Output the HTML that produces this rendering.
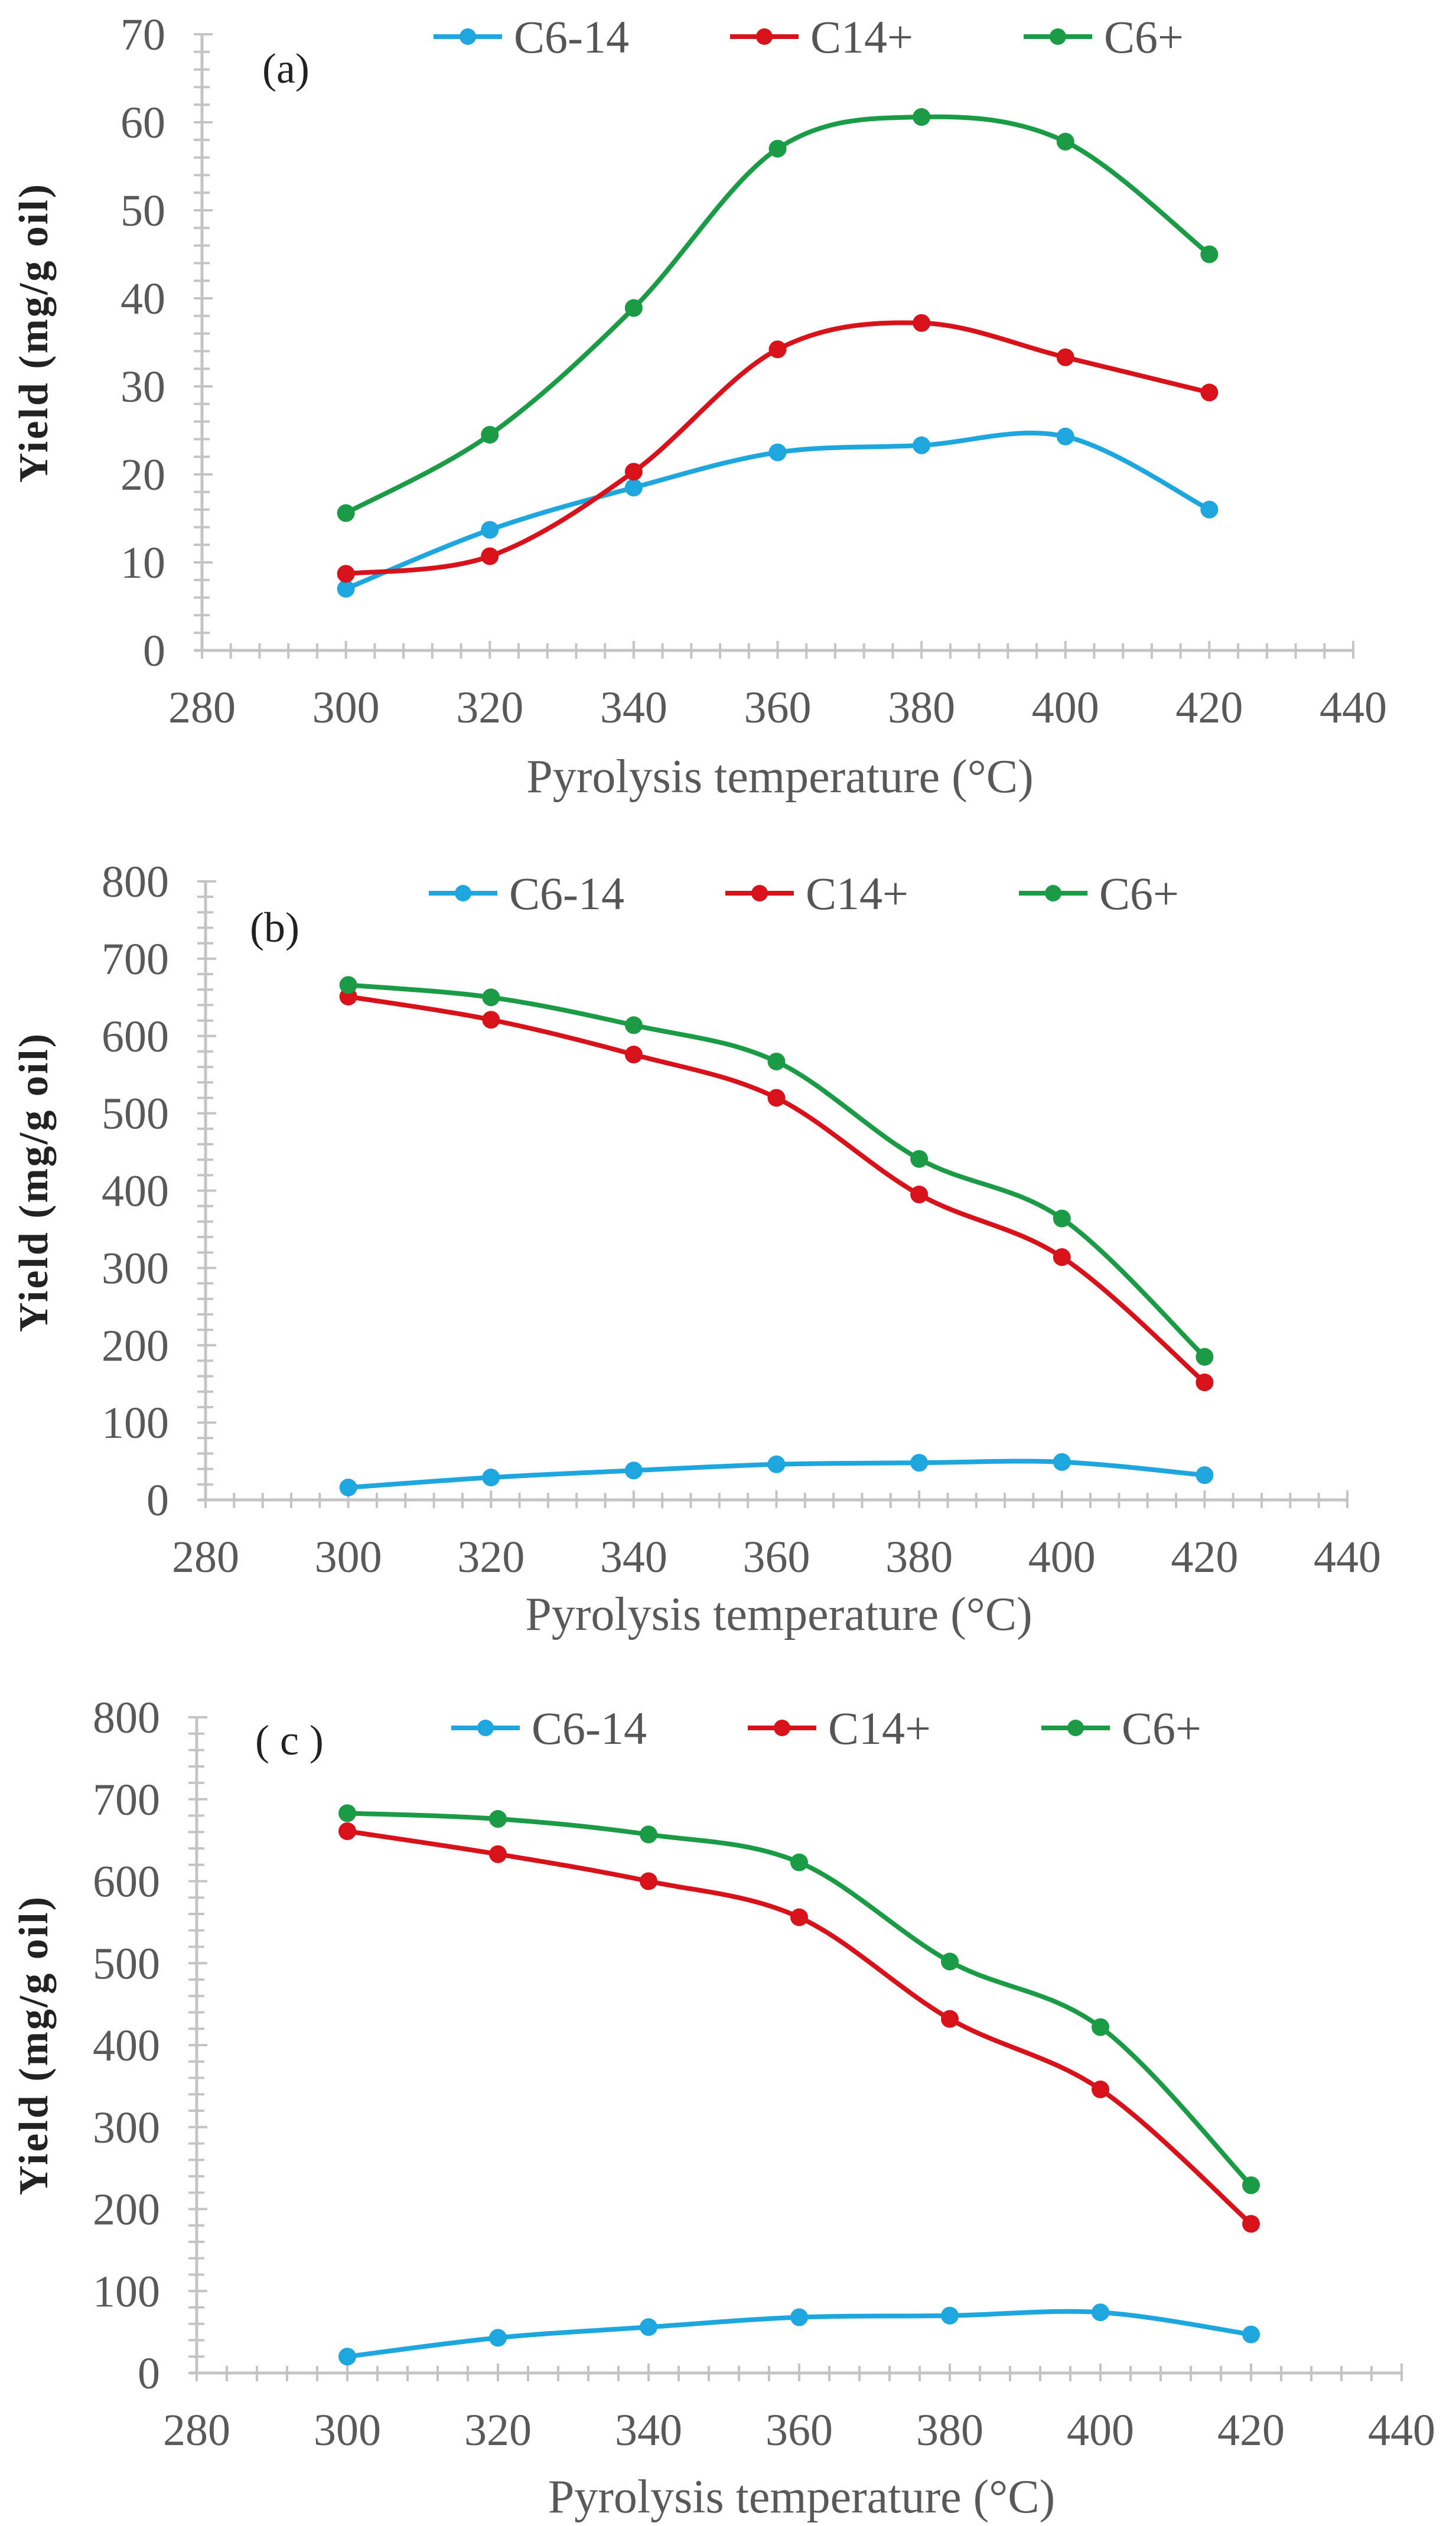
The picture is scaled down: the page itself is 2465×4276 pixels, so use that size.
<!DOCTYPE html>
<html><head><meta charset="utf-8"><style>
html,body{margin:0;padding:0;background:#fff;}
svg{display:block;}
text{font-family:"Liberation Serif",serif;}
</style></head>
<body>
<svg id="fig" width="2465" height="4276" viewBox="0 0 2465 4276" xmlns="http://www.w3.org/2000/svg"></svg>
<script>
const temps = [300, 320, 340, 360, 380, 400, 420];
const seriesNames = ["C6-14", "C14+", "C6+"];
const xTickLabels = ["280", "300", "320", "340", "360", "380", "400", "420", "440"];
const aC614 = [7, 13.7, 18.5, 22.5, 23.3, 24.3, 16];
const aC14 = [8.7, 10.7, 20.3, 34.2, 37.2, 33.3, 29.3];
const aC6 = [15.6, 24.5, 38.9, 57, 60.6, 57.8, 45];
const bC614 = [16, 29, 38, 46, 48, 49, 32];
const bC14 = [651, 621, 576, 520, 395, 314, 152];
const bC6 = [666, 650, 614, 567, 441, 364, 185];
const cC614 = [20, 43, 56, 68, 70, 74, 47];
const cC14 = [661, 633, 600, 556, 432, 346, 182];
const cC6 = [683, 676, 657, 623, 502, 422, 229];
const aYTicks = ["0","10","20","30","40","50","60","70"];
const bcYTicks = ["0","100","200","300","400","500","600","700","800"];

const NS = "http://www.w3.org/2000/svg";
const svg = document.getElementById("fig");
const colors = ["#1ea6de", "#d8121b", "#1b9b45"];
function mk(tag, attrs, parent){ const e=document.createElementNS(NS,tag); for(const k in attrs) e.setAttribute(k,attrs[k]); (parent||svg).appendChild(e); return e; }

function smoothPath(pts){
  let d = "M"+pts[0][0]+","+pts[0][1];
  for(let i=0;i<pts.length-1;i++){
    const p0=pts[i-1]||pts[i], p1=pts[i], p2=pts[i+1], p3=pts[i+2]||p2;
    const c1=[p1[0]+(p2[0]-p0[0])/6, p1[1]+(p2[1]-p0[1])/6];
    const c2=[p2[0]-(p3[0]-p1[0])/6, p2[1]-(p3[1]-p1[1])/6];
    d+=" C"+c1[0]+","+c1[1]+" "+c2[0]+","+c2[1]+" "+p2[0]+","+p2[1];
  }
  return d;
}

function panel(cfg){
  const g = mk("g",{});
  
  
  const xs = v => cfg.x0 + (v-280)*(cfg.x1-cfg.x0)/160;
  const ys = v => cfg.y0 - v*(cfg.y0-cfg.yTop)/cfg.yMax;
  const ax = mk("g",{stroke:"#c4c4c4","stroke-width":4},g);
  
  
  mk("line",{x1:cfg.x0,y1:cfg.yTop,x2:cfg.x0,y2:cfg.y0,"stroke-width":5},ax);
  mk("line",{x1:cfg.x0-12,y1:cfg.y0,x2:cfg.x1,y2:cfg.y0,"stroke-width":5},ax);
  for(let v=0; v<=cfg.yMax+1e-9; v+=cfg.yMinor){
    const major = Math.abs(v/cfg.yMajor - Math.round(v/cfg.yMajor))<1e-6;
    mk("line",{x1:cfg.x0-14,x2:cfg.x0+(major?18:13),y1:ys(v),y2:ys(v)},ax);
  }
  for(let v=280; v<=440; v+=4){
    const major = (v-280)%20===0;
    mk("line",{x1:xs(v),x2:xs(v),y1:cfg.y0-(major?16:12),y2:cfg.y0+14},ax);
  }
  cfg.yTicks.forEach((t,i)=>{
    const tx = mk("text",{x:cfg.x0-62,y:ys(i*cfg.yMajor)+26,"text-anchor":"end","font-size":76,fill:"#595959"},g);
    tx.textContent=t;
    
    
  });
  xTickLabels.forEach(t=>{
    const tx = mk("text",{x:xs(+t),y:cfg.y0+122,"text-anchor":"middle","font-size":76,fill:"#595959"},g);
    tx.textContent=t;
    
    
  });
  const xt = mk("text",{x:(cfg.x0+cfg.x1)/2+4,y:cfg.y0+cfg.xtOff,"text-anchor":"middle","font-size":80,fill:"#595959"},g);
  xt.textContent="Pyrolysis temperature (°C)";
  
  
  const yt = mk("text",{x:0,y:0,"text-anchor":"middle","font-size":70,"font-weight":"bold","letter-spacing":"3",fill:"#222",transform:"translate(80,"+cfg.ytY+") rotate(-90)"},g);
  yt.textContent="Yield (mg/g oil)";
  
  
  const lab = mk("text",{x:cfg.labX,y:cfg.labY,"font-size":72,fill:"#222"},g);
  lab.textContent=cfg.label;
  
  
  cfg.series.forEach((vals,si)=>{
    const pts = vals.map((v,i)=>[xs(temps[i]), ys(v)]);
    const p = mk("path",{d:smoothPath(pts),fill:"none",stroke:colors[si],"stroke-width":8},g);
    
    
    pts.forEach(pt=>{
      const c = mk("circle",{cx:pt[0],cy:pt[1],r:15,fill:colors[si]},g);
      
      
    });
  });
  const legX=[734,1236,1733];
  seriesNames.forEach((n,si)=>{
    const lg = mk("g",{transform:"translate("+cfg.legDx+","+cfg.legY+")"},g);
    
    
    mk("line",{x1:legX[si],x2:legX[si]+116,y1:0,y2:0,stroke:colors[si],"stroke-width":8},lg);
    mk("circle",{cx:legX[si]+58,cy:0,r:14,fill:colors[si]},lg);
    const t = mk("text",{x:legX[si]+136,y:27,"font-size":78,fill:"#555"},lg);
    t.textContent=n;
  });
}

panel({id:"a",x0:342,x1:2291,y0:1101,yTop:58,yMax:70,yMajor:10,yMinor:2,yTicks:aYTicks,
  series:[aC614,aC14,aC6],label:"(a)",labX:444,labY:140,legDx:0,legY:62,xtOff:240,ytY:563});
panel({id:"b",x0:348,x1:2281,y0:2539,yTop:1492,yMax:800,yMajor:100,yMinor:20,yTicks:bcYTicks,
  series:[bC614,bC14,bC6],label:"(b)",labX:423,labY:1594,legDx:-8,legY:1512,xtOff:220,ytY:2001});
panel({id:"c",x0:333,x1:2373,y0:4017,yTop:2907,yMax:800,yMajor:100,yMinor:20,yTicks:bcYTicks,
  series:[cC614,cC14,cC6],label:"( c )",labX:432,labY:2970,legDx:30,legY:2925,xtOff:236,ytY:3462});
</script>
</body></html>
